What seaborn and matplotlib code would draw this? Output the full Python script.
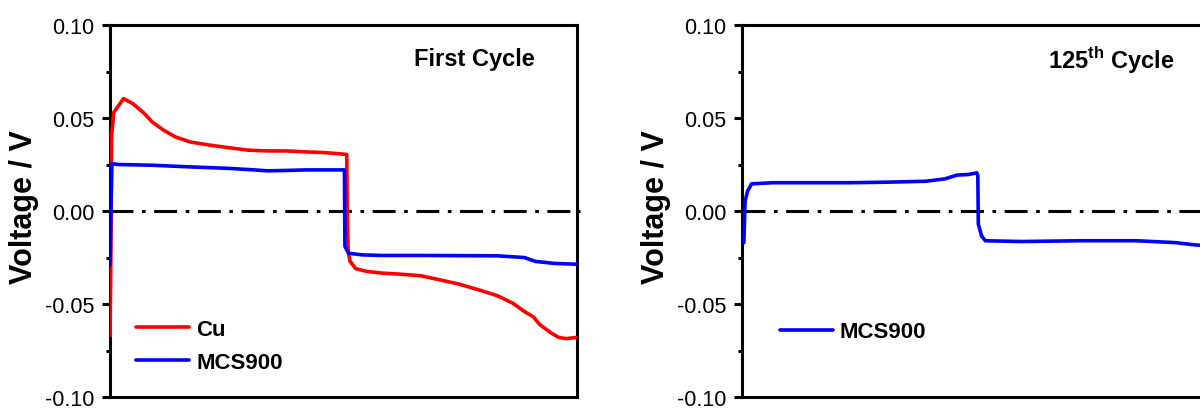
import matplotlib

matplotlib.use("Agg")
import matplotlib.pyplot as plt
import pandas as pd
import seaborn as sns

OUTPUT = "out.png"

# time as percent of one charge/discharge cycle (x axis is cropped off)
CU_T = [0, 0.2, 0.3, 0.8, 2.9, 4.9, 7.4, 9.0, 11.5, 14.0, 17.2, 21.4, 25.5,
        29.6, 33.7, 37.8, 41.9, 46.0, 48.4, 50.7, 50.8, 51.0, 51.4, 52.6,
        55.0, 58.3, 62.4, 66.5, 70.6, 74.7, 78.8, 82.9, 86.2, 88.7, 90.7,
        92.0, 94.4, 96.1, 97.7, 99.8]
CU_V = [-0.067, -0.02, 0.039, 0.053, 0.0604, 0.0577, 0.0523, 0.0479, 0.0434,
        0.0398, 0.0371, 0.0354, 0.034, 0.0327, 0.0323, 0.0323, 0.0318, 0.0314,
        0.0309, 0.0304, 0.0, -0.022, -0.027, -0.031, -0.0325, -0.0334, -0.034,
        -0.0348, -0.037, -0.0393, -0.0423, -0.0455, -0.0495, -0.054, -0.057,
        -0.061, -0.0655, -0.068, -0.0686, -0.068]

MCS_FIRST_T = [0, 0.2, 0.4, 1.7, 9.0, 17.2, 25.5, 29.6, 33.7, 37.8, 41.9,
               46.0, 50.2, 50.3, 51.1, 54.0, 58.2, 66.5, 74.7, 82.9, 88.7,
               91.1, 95.2, 99.8]
MCS_FIRST_V = [-0.029, 0.0, 0.0255, 0.025, 0.0246, 0.0237, 0.0229, 0.0223,
               0.0216, 0.0218, 0.0221, 0.0221, 0.0221, -0.019, -0.0227,
               -0.0236, -0.0239, -0.0239, -0.024, -0.0241, -0.025, -0.0271,
               -0.0282, -0.0286]

MCS_125_T = [0.4, 0.66, 1.2, 2.05, 6.6, 14.8, 23.0, 31.2, 39.4, 43.5, 46.0,
             48.4, 50.3, 50.5, 50.6, 51.3, 52.1, 59.9, 72.2, 84.6, 92.8, 96.9,
             100.0]
MCS_125_V = [-0.017, 0.0054, 0.0107, 0.0146, 0.0152, 0.0152, 0.0152, 0.0155,
             0.016, 0.0173, 0.0193, 0.0196, 0.0205, 0.019, -0.007, -0.0134,
             -0.016, -0.0164, -0.016, -0.016, -0.017, -0.0182, -0.0188]

Y_TICKS = [-0.10, -0.05, 0.00, 0.05, 0.10]
Y_TICK_LABELS = ["-0.10", "-0.05", "0.00", "0.05", "0.10"]

RED = "#ff0000"
BLUE = "#0000ff"


def style_axes(ax):
    ax.set_xlim(0, 100)
    ax.set_ylim(-0.10, 0.10)
    ax.set_yticks(Y_TICKS)
    ax.set_yticklabels(Y_TICK_LABELS)
    ax.set_yticks([-0.075, -0.025, 0.025, 0.075], minor=True)
    ax.set_xticks([])
    for spine in ax.spines.values():
        spine.set_linewidth(2.2)
        spine.set_color("black")
    ax.tick_params(axis="y", which="major", direction="out", length=6,
                   width=2.2, pad=5, labelsize=15.5, left=True, colors="black")
    ax.tick_params(axis="y", which="minor", direction="out", length=3,
                   width=2.2, left=True, colors="black")
    ax.set_ylabel("Voltage / V", fontsize=22, fontweight="bold", color="black")
    ax.yaxis.set_label_coords(-0.152, 0.514)
    ax.axhline(0, xmin=0, xmax=1.007, color="black", lw=2.2,
               dashes=(7.5, 2.8, 1.2, 2.8), zorder=1.5, clip_on=False)


def draw(ax, t, v, color, label):
    df = pd.DataFrame({"time": t, "voltage": v})
    sns.lineplot(data=df, x="time", y="voltage", ax=ax, color=color, lw=2.6,
                 label=label, sort=False, estimator=None, zorder=3)


def main():
    sns.set_theme(style="white")
    plt.rcParams["font.family"] = ["Liberation Sans", "DejaVu Sans"]
    plt.rcParams["text.color"] = "black"
    plt.rcParams["axes.labelcolor"] = "black"
    plt.rcParams["mathtext.fontset"] = "custom"
    plt.rcParams["mathtext.rm"] = "Liberation Sans"
    plt.rcParams["mathtext.bf"] = "Liberation Sans:bold"

    fig = plt.figure(figsize=(12, 4.1), dpi=100)
    ax1 = fig.add_axes([110 / 1200, 12 / 410, 467 / 1200, 372 / 410])
    ax2 = fig.add_axes([742 / 1200, 12 / 410, 467 / 1200, 372 / 410])

    draw(ax1, CU_T, CU_V, RED, "Cu")
    draw(ax1, MCS_FIRST_T, MCS_FIRST_V, BLUE, "MCS900")
    draw(ax2, MCS_125_T, MCS_125_V, BLUE, "MCS900")

    for ax in (ax1, ax2):
        style_axes(ax)
        ax.set_xlabel("")

    ax1.text(0.78, 0.909, "First Cycle", transform=ax1.transAxes,
             ha="center", va="center", fontsize=17, fontweight="bold",
             color="black")
    ax2.text(0.79, 0.909, r"125$^{\mathbf{th}}$ Cycle", transform=ax2.transAxes,
             ha="center", va="center", fontsize=17, fontweight="bold",
             color="black")

    leg_kw = dict(frameon=False, handlelength=2.4, handletextpad=0.3,
                  borderpad=0, borderaxespad=0, labelspacing=0.55,
                  labelcolor="black", prop={"size": 16, "weight": "bold"})
    ax1.legend(loc="center left", bbox_to_anchor=(0.056, 0.138), **leg_kw)
    ax2.legend(loc="center left", bbox_to_anchor=(0.081, 0.175), **leg_kw)

    fig.savefig(OUTPUT, dpi=100)
    plt.close(fig)


if __name__ == "__main__":
    main()
